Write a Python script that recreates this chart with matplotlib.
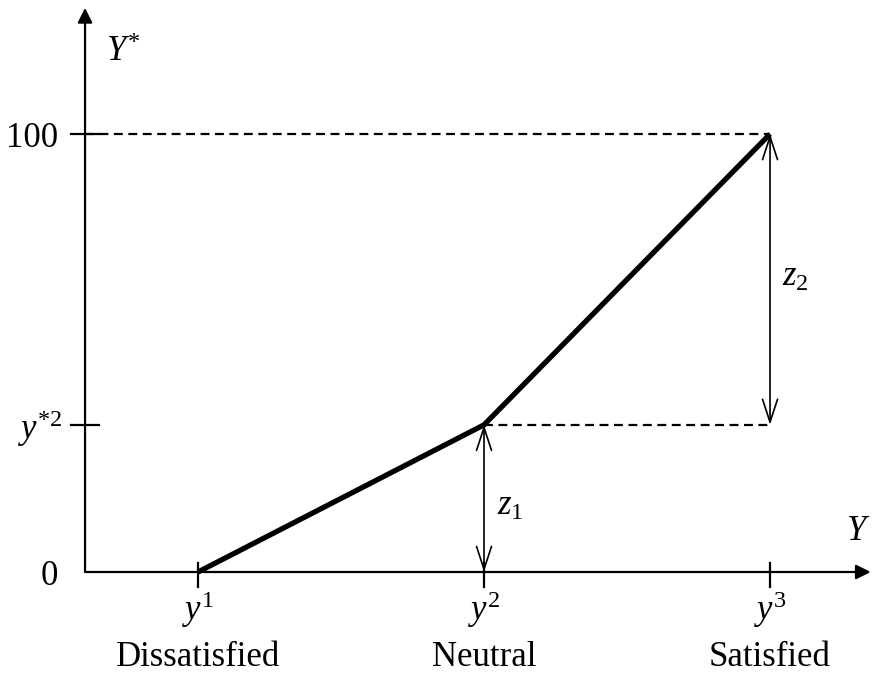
import matplotlib.pyplot as plt

plt.rcParams['font.family'] = ['Liberation Serif', 'DejaVu Serif']
plt.rcParams['mathtext.fontset'] = 'custom'
plt.rcParams['mathtext.rm'] = 'Liberation Serif'
plt.rcParams['mathtext.it'] = 'Liberation Serif:italic'

# data
categories = ['Dissatisfied', 'Neutral', 'Satisfied']
x_names = ['$y^{\\mathit{1}}$', '$y^{2}$', '$y^{3}$']
x_pos = [1, 2, 3]
utility = [0, 33.6, 100]
y_names = ['0', '$y^{*2}$', '100']
gap_names = ['$z_{\\mathit{1}}$', '$z_{2}$']

fig = plt.figure(figsize=(8.73, 6.73), dpi=100)
ax = fig.add_axes([0, 0, 1, 1])
ax.set_xlim(0.3077, 3.360)
ax.set_ylim(-23.06, 130.6)
ax.axis('off')

x0 = 0.605  # where the axes cross
fs = 25

# axes with filled arrow heads
ax.annotate('', xy=(3.352, 0), xytext=(x0, 0),
            arrowprops=dict(arrowstyle='-|>', lw=1.6, color='black', mutation_scale=22, shrinkA=0, shrinkB=0))
ax.annotate('', xy=(x0, 128.8), xytext=(x0, 0),
            arrowprops=dict(arrowstyle='-|>', lw=1.6, color='black', mutation_scale=22, shrinkA=0, shrinkB=0))
ax.text(3.352, 5.5, '$Y$', fontsize=fs, ha='right', va='bottom')
ax.text(0.74, 118.5, '$Y^{*}$', fontsize=fs, ha='center', va='center')

# ticks on x axis
for x, nm, cat in zip(x_pos, x_names, categories):
    ax.plot([x, x], [2.0, -3.5], color='black', lw=1.6)
    ax.annotate(nm, (x, 0), xytext=(0, -38), textcoords='offset pixels',
                fontsize=fs, ha='center', va='center')
    ax.annotate(cat, (x, 0), xytext=(0, -85), textcoords='offset pixels',
                fontsize=fs, ha='center', va='center')

# ticks on y axis
for v, nm in zip(utility, y_names):
    if v > 0:
        ax.plot([x0 - 0.05, x0 + 0.05], [v, v], color='black', lw=1.6)
    dx = -22 if nm.startswith('$') else -27
    ax.annotate(nm, (x0, v), xytext=(dx, -4), textcoords='offset pixels',
                fontsize=fs, ha='right', va='center')

# dashed guides
ax.plot([x0, x_pos[2]], [utility[2], utility[2]], color='black', lw=1.6, ls=(0, (4, 2.5)))
ax.plot([x_pos[1], x_pos[2]], [utility[1], utility[1]], color='black', lw=1.6, ls=(0, (4, 2.5)))

# utility curve
ax.plot(x_pos, utility, color='black', lw=3.8, solid_capstyle='butt', solid_joinstyle='miter')

# double arrows for z1, z2
for lo, hi in [(0, utility[1]), (utility[1], utility[2])]:
    xa = x_pos[1] if lo == 0 else x_pos[2]
    ax.annotate('', xy=(xa, hi), xytext=(xa, lo),
                arrowprops=dict(arrowstyle='<->,head_length=0.55,head_width=0.18', lw=1.2, color='black',
                                mutation_scale=30, shrinkA=0, shrinkB=0))
ax.annotate(gap_names[0], (x_pos[1], utility[1] / 2), xytext=(26, -8), textcoords='offset pixels',
            fontsize=fs, ha='center', va='center')
ax.annotate(gap_names[1], (x_pos[2], (utility[1] + utility[2]) / 2), xytext=(25, 2), textcoords='offset pixels',
            fontsize=fs, ha='center', va='center')

fig.savefig('out.png', dpi=100)
